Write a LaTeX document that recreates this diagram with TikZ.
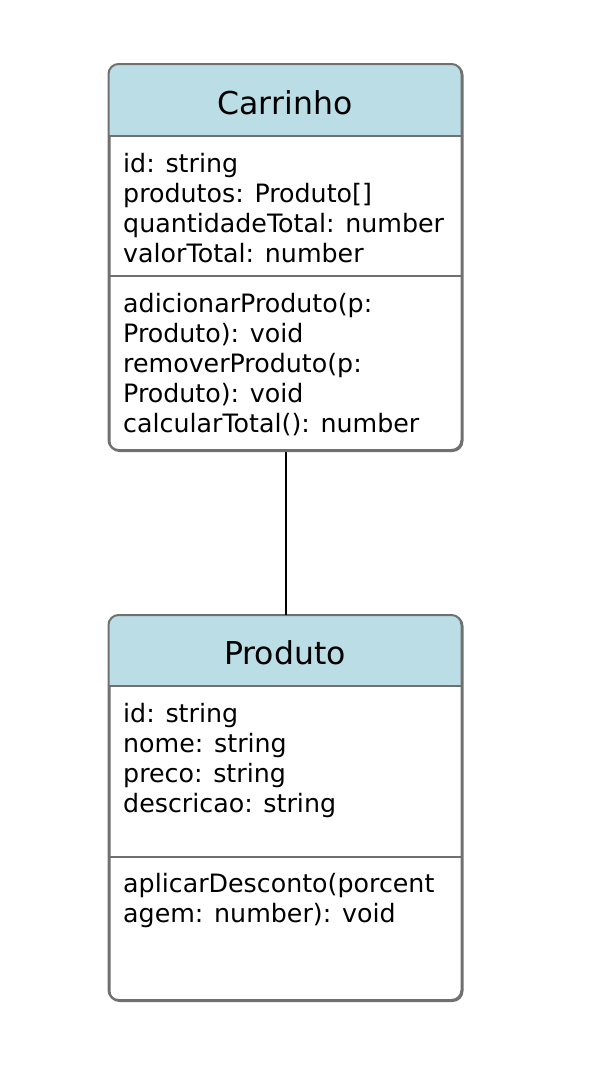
\documentclass[tikz,border=0pt]{standalone}
\usepackage{fontspec}
\setmainfont{DejaVu Sans}
\definecolor{headfill}{RGB}{186,221,230}
\definecolor{boxline}{RGB}{112,112,112}
\tikzset{
  classbox/.style={draw=boxline, line width=2pt, rounded corners=10pt, fill=white, anchor=north west, inner sep=0pt},
  outline/.style={draw=boxline, line width=2pt, rounded corners=10pt},
  divider/.style={draw=boxline, line width=2pt},
  titletext/.style={anchor=base, inner sep=0pt, font=\fontsize{31.5}{38}\selectfont},
  membertext/.style={anchor=base west, inner sep=0pt, font=\fontsize{25.3}{30}\selectfont},
  assoc/.style={draw=black, line width=2pt}
}
\begin{document}
\begin{tikzpicture}[x=1pt,y=-1pt]
\useasboundingbox (0,0) rectangle (610,1072);
% Carrinho
\node[classbox, minimum width=353pt, minimum height=386pt] (carrinho) at (108.5,64) {};
\begin{scope}
  \clip (100,60) rectangle (470,136);
  \fill[headfill, rounded corners=10pt] (108.5,64) rectangle (461.5,450);
\end{scope}
\draw[outline] (108.5,64) rectangle (461.5,450);
\draw[divider] (108.5,136) -- (461.5,136);
\draw[divider] (108.5,276) -- (461.5,276);
\node[titletext] (ctitle) at (285,114) {Carrinho};
\node[membertext] (ca1) at (123,172) {id: string};
\node[membertext] (ca2) at (123,202) {produtos: Produto[]};
\node[membertext] (ca3) at (123,232) {quantidadeTotal: number};
\node[membertext] (ca4) at (123,262) {valorTotal: number};
\node[membertext] (cm1) at (123,312) {adicionarProduto(p:};
\node[membertext] (cm2) at (123,342) {Produto): void};
\node[membertext] (cm3) at (123,372) {removerProduto(p:};
\node[membertext] (cm4) at (123,402) {Produto): void};
\node[membertext] (cm5) at (123,432) {calcularTotal(): number};
% Produto
\node[classbox, minimum width=353pt, minimum height=385pt] (produto) at (108.5,615) {};
\begin{scope}
  \clip (100,610) rectangle (470,686);
  \fill[headfill, rounded corners=10pt] (108.5,615) rectangle (461.5,1000);
\end{scope}
\draw[outline] (108.5,615) rectangle (461.5,1000);
\draw[divider] (108.5,686) -- (461.5,686);
\draw[divider] (108.5,857) -- (461.5,857);
\node[titletext] (ptitle) at (285,664) {Produto};
\node[membertext] (pa1) at (123,722) {id: string};
\node[membertext] (pa2) at (123,752) {nome: string};
\node[membertext] (pa3) at (123,782) {preco: string};
\node[membertext] (pa4) at (123,812) {descricao: string};
\node[membertext] (pm1) at (123,892) {aplicarDesconto(porcent};
\node[membertext] (pm2) at (123,922) {agem: number): void};
% association
\draw[assoc] (carrinho.south) -- (produto.north);
\end{tikzpicture}
\end{document}
